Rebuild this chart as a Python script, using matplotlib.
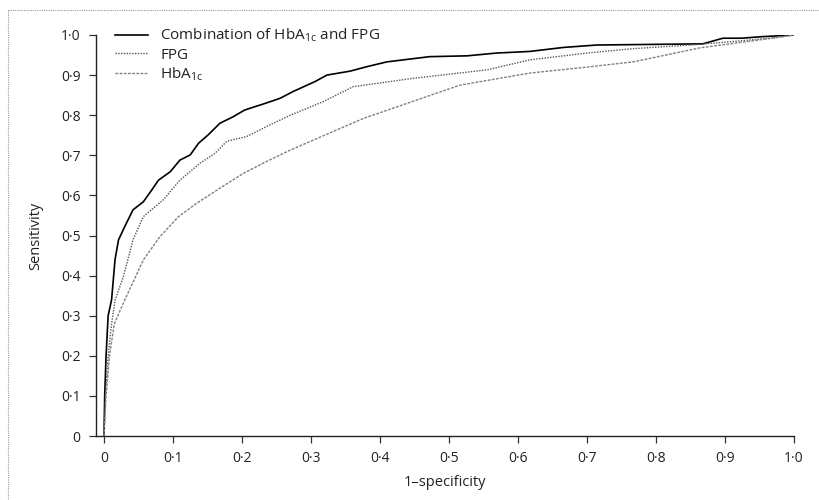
import matplotlib
matplotlib.use("Agg")
from matplotlib import pyplot as plt
from matplotlib.lines import Line2D
import numpy as np

plt.rcParams['font.family'] = ['Open Sans', 'DejaVu Sans']
plt.rcParams['mathtext.default'] = 'regular'

# ROC curves (1-specificity, sensitivity)
combo_x = [0, 0.001, 0.003, 0.006, 0.011, 0.016, 0.021, 0.030, 0.042, 0.057, 0.069, 0.079,
           0.096, 0.110, 0.125, 0.137, 0.151, 0.168, 0.187, 0.204, 0.231, 0.255, 0.274,
           0.306, 0.323, 0.357, 0.381, 0.410, 0.472, 0.526, 0.569, 0.617, 0.666, 0.714,
           0.868, 0.897, 0.924, 0.955, 1.0]
combo_y = [0, 0.10, 0.20, 0.30, 0.34, 0.44, 0.489, 0.522, 0.564, 0.584, 0.613, 0.638,
           0.659, 0.688, 0.701, 0.730, 0.751, 0.780, 0.796, 0.813, 0.828, 0.842, 0.859,
           0.884, 0.900, 0.910, 0.921, 0.933, 0.946, 0.948, 0.955, 0.959, 0.969, 0.975,
           0.978, 0.992, 0.992, 0.996, 1.0]

fpg_x = [0, 0.002, 0.006, 0.011, 0.016, 0.028, 0.042, 0.057, 0.086, 0.110, 0.139, 0.161,
         0.178, 0.207, 0.236, 0.270, 0.318, 0.361, 0.448, 0.555, 0.617, 0.700, 0.767,
         0.850, 0.920, 0.970, 1.0]
fpg_y = [0, 0.10, 0.20, 0.28, 0.339, 0.397, 0.489, 0.547, 0.589, 0.638, 0.680, 0.705,
         0.735, 0.747, 0.772, 0.800, 0.834, 0.871, 0.892, 0.913, 0.938, 0.955, 0.966,
         0.975, 0.985, 0.993, 1.0]

hba_x = [0, 0.003, 0.008, 0.015, 0.030, 0.057, 0.081, 0.108, 0.134, 0.168, 0.202, 0.236,
         0.270, 0.376, 0.516, 0.617, 0.700, 0.767, 0.864, 0.960, 1.0]
hba_y = [0, 0.10, 0.20, 0.28, 0.339, 0.439, 0.497, 0.547, 0.580, 0.618, 0.655, 0.685,
         0.713, 0.792, 0.875, 0.905, 0.920, 0.933, 0.968, 0.990, 1.0]

ticks = np.round(np.arange(0, 1.01, 0.1), 1)
tick_labels = ['0'] + [f'{t:.1f}'.replace('.', '\u00b7') for t in ticks[1:]]

fig = plt.figure(figsize=(8.19, 5), dpi=100)
ax = fig.add_axes([96 / 819, 1 - 436 / 500, 698 / 819, 401 / 500])

ax.plot(combo_x, combo_y, color='black', lw=1.2,
        label='Combination of HbA$_{1c}$ and FPG')
ax.plot(fpg_x, fpg_y, color='#555555', lw=1.0, ls=(0, (1, 1)), label='FPG')
ax.plot(hba_x, hba_y, color='#808080', lw=1.0, ls=(0, (2, 1)), label='HbA$_{1c}$')

ax.set_xlim(-8 / 690, 1.0)
ax.set_ylim(0, 1.0)
ax.set_xticks(ticks)
ax.set_xticklabels(tick_labels)
ax.set_yticks(ticks)
ax.set_yticklabels(tick_labels)
ax.tick_params(direction='out', length=5, width=0.9, colors='#333333', labelsize=10,
               labelcolor='#222222', pad=6)
ax.spines['top'].set_visible(False)
ax.spines['right'].set_visible(False)
for s in ['left', 'bottom']:
    ax.spines[s].set_linewidth(1.0)
    ax.spines[s].set_color('#222222')

ax.set_xlabel('1\u2013specificity', fontsize=10.5, color='#222222', labelpad=6)
ax.set_ylabel('Sensitivity', fontsize=10.5, color='#222222', labelpad=13)

leg = ax.legend(loc='upper left', bbox_to_anchor=(0.0186, 1.035), borderaxespad=0,
                frameon=False, fontsize=11, handlelength=2.15, handletextpad=0.8,
                labelspacing=0.2)
for t in leg.get_texts():
    t.set_color('#222222')

# dotted page border (left and top only)
fig.add_artist(Line2D([8 / 819, 8 / 819], [0, 1 - 10 / 500], transform=fig.transFigure,
                      color='#999999', lw=0.8, ls=(0, (1, 1))))
fig.add_artist(Line2D([8 / 819, 1], [1 - 10 / 500, 1 - 10 / 500], transform=fig.transFigure,
                      color='#999999', lw=0.8, ls=(0, (1, 1))))

fig.savefig('out.png', dpi=100)
